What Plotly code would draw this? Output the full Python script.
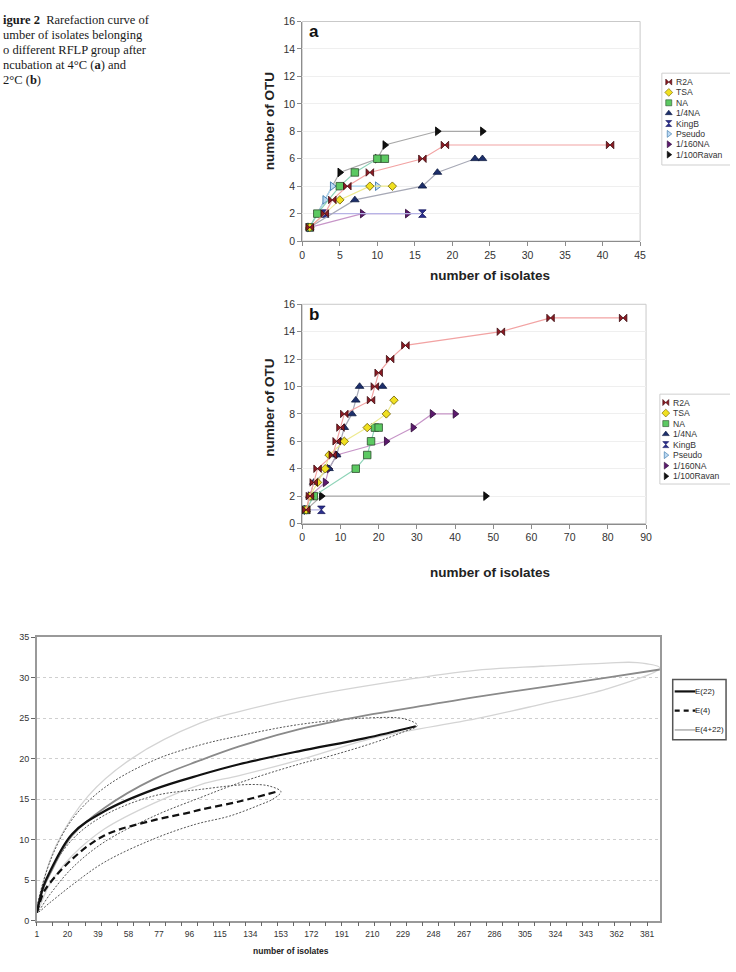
import plotly.graph_objects as go

W, H = 736, 972

# ---------------- data ----------------
series = ["R2A", "TSA", "NA", "1/4NA", "KingB", "Pseudo", "1/160NA", "1/100Ravan"]

# Panel a (4 °C)
a_r2a_x = [1, 3, 4, 6, 9, 16, 19, 41]
a_r2a_y = [1, 2, 3, 4, 5, 6, 7, 7]
a_tsa_x = [1, 5, 9, 12]
a_tsa_y = [1, 3, 4, 4]
a_na_x = [1, 2, 5, 7, 10, 11]
a_na_y = [1, 2, 4, 5, 6, 6]
a_q4na_x = [1, 7, 16, 18, 23, 24]
a_q4na_y = [1, 3, 4, 5, 6, 6]
a_kingb_x = [1, 3, 16]
a_kingb_y = [1, 2, 2]
a_pseudo_x = [1, 3, 4, 10]
a_pseudo_y = [1, 3, 4, 4]
a_n160_x = [1, 8, 14]
a_n160_y = [1, 2, 2]
a_ravan_x = [1, 5, 10, 11, 18, 24]
a_ravan_y = [1, 5, 6, 7, 8, 8]

# Panel b (22 °C)
b_r2a_x = [1, 2, 3, 4, 8, 9, 10, 11, 18, 19, 20, 23, 27, 52, 65, 84]
b_r2a_y = [1, 2, 3, 4, 5, 6, 7, 8, 9, 10, 11, 12, 13, 14, 15, 15]
b_tsa_x = [1, 2, 4, 6, 7, 11, 17, 22, 24]
b_tsa_y = [1, 2, 3, 4, 5, 6, 7, 8, 9]
b_na_x = [1, 3, 14, 17, 18, 19, 20]
b_na_y = [1, 2, 4, 5, 6, 7, 7]
b_q4na_x = [1, 2, 3, 7, 9, 10, 11, 13, 14, 15, 21]
b_q4na_y = [1, 2, 3, 4, 5, 6, 7, 8, 9, 10, 10]
b_kingb_x = [1, 5]
b_kingb_y = [1, 1]
b_pseudo_x = [1]
b_pseudo_y = [1]
b_n160_x = [1, 2, 6, 7, 9, 22, 29, 34, 40]
b_n160_y = [1, 2, 3, 4, 5, 6, 7, 8, 8]
b_ravan_x = [1, 5, 48]
b_ravan_y = [1, 2, 2]

# Bottom chart: rarefaction expectations
e22_x = [1, 5, 9, 23, 43, 74, 103, 127, 164, 205, 237]
e22_y = [1, 4.2, 6.0, 10.7, 13.5, 16.2, 18.0, 19.3, 20.9, 22.5, 24.0]
e4_x = [1, 5, 9, 23, 43, 74, 95, 103, 127, 150]
e4_y = [1, 3.4, 4.6, 7.6, 10.5, 12.4, 13.3, 13.7, 14.7, 15.9]
e422_x = [1, 5, 9, 23, 43, 74, 103, 127, 164, 205, 244, 274, 315, 356, 389]
e422_y = [1, 4.0, 5.7, 10.5, 13.9, 17.5, 19.8, 21.5, 23.6, 25.3, 26.6, 27.6, 28.8, 30.0, 31.0]

# confidence envelopes (upper edge, tip, lower edge)
ci22_up_x = [1, 9, 23, 43, 74, 103, 127, 164, 205, 230]
ci22_up_y = [1, 7.2, 12.5, 16.4, 19.8, 21.7, 22.8, 24.2, 25.0, 24.9]
ci22_tip = (238, 24.1)
ci22_lo_x = [1, 9, 23, 43, 74, 103, 127, 164, 185, 213, 228]
ci22_lo_y = [1, 3.2, 6.5, 9.7, 12.9, 15.2, 17.0, 19.3, 20.4, 22.1, 23.2]

ci4_up_x = [1, 9, 23, 43, 74, 103, 133, 146]
ci4_up_y = [1, 5.8, 10.0, 13.0, 15.4, 16.2, 16.8, 16.6]
ci4_tip = (153, 15.9)
ci4_lo_x = [1, 9, 23, 43, 74, 100, 121, 140, 148]
ci4_lo_y = [1, 2.2, 4.4, 7.2, 10.1, 11.9, 12.9, 14.3, 15.0]

ci422_up_x = [1, 5, 13, 33, 60, 103, 127, 164, 226, 274, 315, 356, 375]
ci422_up_y = [1, 4.8, 9.3, 15.4, 20.0, 24.4, 25.8, 27.5, 29.6, 30.9, 31.4, 31.8, 31.85]
ci422_tip = (389, 31.2)
ci422_lo_x = [1, 9, 23, 43, 74, 103, 127, 164, 214, 274, 315, 356]
ci422_lo_y = [1, 4.5, 8.0, 11.3, 14.5, 16.8, 17.9, 19.8, 22.7, 24.9, 26.7, 28.6]

bottom_ticks = list(range(1, 382, 19))
bottom_legend = ["E(22)", "E(4)", "E(4+22)"]

caption_lines = [
    "<b>igure 2</b>\u00a0 Rarefaction curve of",
    "umber of isolates belonging",
    "o different RFLP group after",
    "ncubation at 4°C (<b>a</b>) and",
    "2°C (<b>b</b>)",
]

# ---------------- styles ----------------
STY = {
    "R2A": dict(symbol="bowtie", fill="#8e1b24", edge="#3b0b0f", line="#f2a3a3", size=7.5),
    "TSA": dict(symbol="diamond", fill="#f0e020", edge="#6b5a00", line="#eeea90", size=6.5),
    "NA": dict(symbol="square", fill="#5cc962", edge="#2d4d2d", line="#8fd4b8", size=7.5),
    "1/4NA": dict(symbol="triangle-up", fill="#1d2f6b", edge="#0d1a40", line="#a7a9b6", size=7.5),
    "KingB": dict(symbol="hourglass", fill="#2b2f8f", edge="#15175a", line="#b7b4e6", size=7.5),
    "Pseudo": dict(symbol="triangle-right", fill="#bcd9f3", edge="#2d6ea5", line="#a9d4f0", size=7.5),
    "1/160NA": dict(symbol="triangle-right", fill="#5c1a6e", edge="#2c0a35", line="#c796c8", size=7.5),
    "1/100Ravan": dict(symbol="triangle-right", fill="#111111", edge="#000000", line="#a8a8a8", size=7.5),
}
FONT = "Arial, Liberation Sans, sans-serif"
SERIF = "Times New Roman, Liberation Serif, serif"

panel_a = dict(zip(series, [(a_r2a_x, a_r2a_y), (a_tsa_x, a_tsa_y), (a_na_x, a_na_y),
                            (a_q4na_x, a_q4na_y), (a_kingb_x, a_kingb_y), (a_pseudo_x, a_pseudo_y),
                            (a_n160_x, a_n160_y), (a_ravan_x, a_ravan_y)]))
panel_b = dict(zip(series, [(b_r2a_x, b_r2a_y), (b_tsa_x, b_tsa_y), (b_na_x, b_na_y),
                            (b_q4na_x, b_q4na_y), (b_kingb_x, b_kingb_y), (b_pseudo_x, b_pseudo_y),
                            (b_n160_x, b_n160_y), (b_ravan_x, b_ravan_y)]))

fig = go.Figure()

# ---------------- panels a and b ----------------
for data, xa, ya in [(panel_a, "x", "y"), (panel_b, "x2", "y2")]:
    for name in reversed(series):
        s = STY[name]
        xs, ys = data[name]
        fig.add_trace(go.Scatter(
            x=xs, y=ys, xaxis=xa, yaxis=ya, mode="lines+markers", name=name,
            showlegend=False, cliponaxis=False,
            line=dict(color=s["line"], width=1.2),
            marker=dict(symbol=s["symbol"], size=s["size"], color=s["fill"],
                        line=dict(color=s["edge"], width=0.8)),
        ))

# ---------------- bottom chart ----------------
def band(up_x, up_y, tip, lo_x, lo_y):
    return up_x + [tip[0]] + lo_x[::-1], up_y + [tip[1]] + lo_y[::-1]

for (ux, uy, tp, lx, ly), col, dash, wd in [
    ((ci422_up_x, ci422_up_y, ci422_tip, ci422_lo_x, ci422_lo_y), "#d4d4d4", "solid", 1.3),
    ((ci22_up_x, ci22_up_y, ci22_tip, ci22_lo_x, ci22_lo_y), "#555555", "2px,1.6px", 1.0),
    ((ci4_up_x, ci4_up_y, ci4_tip, ci4_lo_x, ci4_lo_y), "#555555", "2px,1.6px", 1.0),
]:
    bx, by = band(ux, uy, tp, lx, ly)
    fig.add_trace(go.Scatter(x=bx, y=by, xaxis="x3", yaxis="y3", mode="lines",
                             showlegend=False, line=dict(color=col, width=wd, dash=dash,
                                                         shape="spline", smoothing=1.0)))

fig.add_trace(go.Scatter(x=e422_x, y=e422_y, xaxis="x3", yaxis="y3", mode="lines", name="E(4+22)",
                         showlegend=False, line=dict(color="#8a8a8a", width=1.8, shape="spline")))
fig.add_trace(go.Scatter(x=e22_x, y=e22_y, xaxis="x3", yaxis="y3", mode="lines", name="E(22)",
                         showlegend=False, line=dict(color="#111111", width=2.2, shape="spline")))
fig.add_trace(go.Scatter(x=e4_x, y=e4_y, xaxis="x3", yaxis="y3", mode="lines", name="E(4)",
                         showlegend=False, line=dict(color="#111111", width=2.2, dash="7px,4px",
                                                     shape="spline")))

# ---------------- custom legends (pixel overlay axes x4/y4) ----------------
shapes = []
annotations = []

def rect(x0, y0, x1, y1, col, w):
    shapes.append(dict(type="rect", xref="x4", yref="y4", x0=x0, y0=y0, x1=x1, y1=y1,
                       line=dict(color=col, width=w), fillcolor="rgba(0,0,0,0)", layer="above"))

def text(x, y, t, size, fam=FONT, bold=False, col="#222", anchor="left", angle=0):
    annotations.append(dict(xref="x4", yref="y4", x=x, y=y, text=("<b>%s</b>" % t) if bold else t,
                            showarrow=False, xanchor=anchor, yanchor="middle", textangle=angle,
                            font=dict(family=fam, size=size, color=col)))

for (bx0, by0, bx1, by1, y0, step, mx, tx) in [
    (667, 68, 738, 161, 77, 10.5, 674, 679),
    (665, 393, 738, 484, 401.5, 10.65, 671, 676),
]:
    rect(bx0, by0, bx1, by1, "#cfcfcf", 1)
    for i, name in enumerate(series):
        s = STY[name]
        fig.add_trace(go.Scatter(x=[mx], y=[y0 + i * step], xaxis="x4", yaxis="y4", mode="markers",
                                 showlegend=False, hoverinfo="skip",
                                 marker=dict(symbol=s["symbol"], size=6, color=s["fill"],
                                             line=dict(color=s["edge"], width=0.6))))
        text(tx, y0 + i * step, name, 8.6, col="#333")

# bottom legend
rect(678, 682, 732, 743, "#555555", 1.5)
leg_styles = [("#111111", "solid", 2.2), ("#111111", "5px,4px", 2.2), ("#9a9a9a", "solid", 1.2)]
for i, (name, (col, dash, wd)) in enumerate(zip(bottom_legend, leg_styles)):
    yy = 694 + i * 19.5
    fig.add_trace(go.Scatter(x=[680, 701], y=[yy, yy], xaxis="x4", yaxis="y4", mode="lines",
                             showlegend=False, hoverinfo="skip",
                             line=dict(color=col, width=wd, dash=dash)))
    text(698.5, yy, name, 8.0, col="#222")

# plot-area frames for panels a, b
for xa, ya in [("x", "y"), ("x2", "y2")]:
    shapes.append(dict(type="rect", xref=xa + " domain", yref=ya + " domain", x0=0, x1=1, y0=0, y1=1,
                       line=dict(color="#c9c9c9", width=1), layer="below"))

# titles and labels
text(270, 117, "number of OTU", 13.5, bold=True, anchor="center", angle=-90)
text(270, 407, "number of OTU", 13.5, bold=True, anchor="center", angle=-90)
text(493, 273, "number of isolates", 13.5, bold=True, anchor="center")
text(493, 574, "number of isolates", 13.5, bold=True, anchor="center")
text(315, 26, "a", 17, bold=True, anchor="center", col="#111")
text(315, 312, "b", 17, bold=True, anchor="center", col="#111")
text(292, 957, "number of isolates", 8.5, bold=True, anchor="center", col="#222")

for i, line in enumerate(caption_lines):
    annotations.append(dict(xref="paper", yref="y4", x=0, y=14.5 + i * 15.2, text=line,
                            showarrow=False, xanchor="left", yanchor="middle", xshift=-2,
                            font=dict(family=SERIF, size=12.5, color="#1a1a1a")))

# ---------------- axes ----------------
def dx(p0, p1):
    return [p0 / W, p1 / W]

def dy(p_top, p_bot):
    return [1 - p_bot / H, 1 - p_top / H]

tickf = dict(family=FONT, size=10.5, color="#333")
common_x = dict(showline=True, linecolor="#8c8c8c", linewidth=1, ticks="outside", ticklen=4,
                tickcolor="#8c8c8c", showgrid=False, zeroline=False, tickfont=tickf, fixedrange=True)
common_y = dict(showline=True, linecolor="#8c8c8c", linewidth=1, ticks="outside", ticklen=4,
                tickcolor="#8c8c8c", showgrid=True, gridcolor="#efefef", zeroline=False,
                tickfont=tickf, dtick=2, range=[0, 16], fixedrange=True)

fig.update_layout(
    width=W, height=H, margin=dict(l=0, r=0, t=0, b=0),
    paper_bgcolor="white", plot_bgcolor="rgba(0,0,0,0)",
    showlegend=False,
    xaxis=dict(domain=dx(303, 645), range=[0, 45], dtick=5, anchor="y", **common_x),
    yaxis=dict(domain=dy(15.7, 238), anchor="x", **common_y),
    xaxis2=dict(domain=dx(303, 651), range=[0, 90], dtick=10, anchor="y2", **common_x),
    yaxis2=dict(domain=dy(302, 524), anchor="x2", **common_y),
    xaxis3=dict(domain=dx(34.3, 665), range=[1, 389], anchor="y3", tickmode="array",
                tickvals=bottom_ticks, ticktext=[str(v) for v in bottom_ticks],
                ticks="outside", ticklen=4, tickcolor="rgba(0,0,0,0)",
                minor=dict(tickmode="linear", tick0=1, dtick=10, ticks="outside", ticklen=4,
                           tickcolor="#666", showgrid=False),
                showline=True, mirror=True, linecolor="#999", linewidth=1.5,
                showgrid=False, zeroline=False, fixedrange=True,
                tickfont=dict(family=FONT, size=8.5, color="#333")),
    yaxis3=dict(domain=dy(639, 926), range=[0, 35], dtick=5, anchor="x3",
                ticks="outside", ticklen=4, tickcolor="#666",
                showline=True, mirror=True, linecolor="#999", linewidth=1.5,
                showgrid=True, gridcolor="#cfcfcf", griddash="dot", gridwidth=1,
                zeroline=False, fixedrange=True,
                tickfont=dict(family=FONT, size=9, color="#333")),
    xaxis4=dict(domain=[0, 1], range=[0, W], visible=False, anchor="y4", fixedrange=True),
    yaxis4=dict(domain=[0, 1], range=[H, 0], visible=False, anchor="x4", fixedrange=True),
    shapes=shapes,
    annotations=annotations,
)

fig.write_html("out.html")
